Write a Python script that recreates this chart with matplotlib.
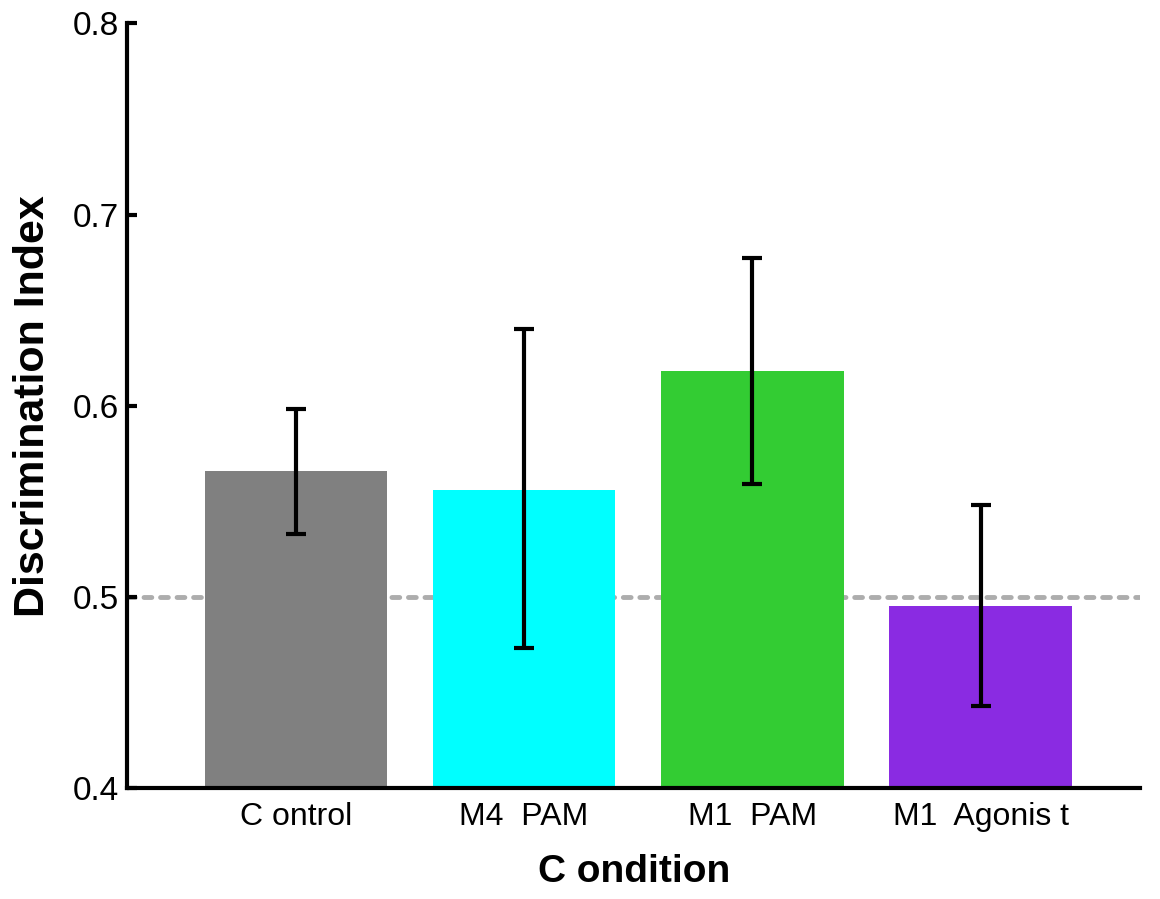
import matplotlib.pyplot as plt
import numpy as np

plt.rcParams['font.family'] = ['Liberation Sans', 'DejaVu Sans']

# 各组条件、均值及误差线上下端
conditions = ['C ontrol', 'M4  PAM', 'M1  PAM', 'M1  Agonis t']
means = [0.566, 0.556, 0.618, 0.495]
err_upper = [0.598, 0.640, 0.677, 0.548]
err_lower = [0.533, 0.473, 0.559, 0.443]
colors = ['#808080', '#00ffff', '#33cc33', '#8a2be2']
chance_level = 0.5

fig = plt.figure(figsize=(11.6, 8.99), dpi=100)
ax = fig.add_axes([0.1095, 0.1235, 0.8735, 0.8505])

x_pos = np.arange(len(conditions))
means_arr = np.array(means)
yerr = np.vstack([means_arr - np.array(err_lower), np.array(err_upper) - means_arr])

# 机会水平虚线（在柱子后面）
ax.axhline(chance_level, color='#adadad', linestyle=(0, (1.6, 1.8)), linewidth=3.5,
           dash_capstyle='round', zorder=1)

ax.bar(x_pos, means, width=0.8, color=colors, zorder=2)
eb = ax.errorbar(x_pos, means, yerr=yerr, fmt='none', ecolor='black',
                 elinewidth=3, capsize=7, capthick=3, zorder=3)
for cap in eb[1]:
    cap.set_solid_capstyle('round')

ax.set_xlim(-0.74, 3.70)
ax.set_ylim(0.4, 0.8)
ax.set_yticks([0.4, 0.5, 0.6, 0.7, 0.8])
ax.set_yticklabels(['0.4', '0.5', '0.6', '0.7', '0.8'])
ax.set_xticks(x_pos)
ax.set_xticklabels(conditions)

ax.tick_params(axis='y', direction='in', length=7, width=3, labelsize=24, pad=6)
ax.tick_params(axis='x', length=0, labelsize=23, pad=10)

ax.set_xlabel('C ondition', fontsize=28, fontweight='bold', labelpad=16)
ax.set_ylabel('Discrimination Index', fontsize=31, fontweight='bold', labelpad=14)

for side in ['top', 'right']:
    ax.spines[side].set_visible(False)
for side in ['left', 'bottom']:
    ax.spines[side].set_linewidth(3)

fig.savefig('out.png', dpi=100)
